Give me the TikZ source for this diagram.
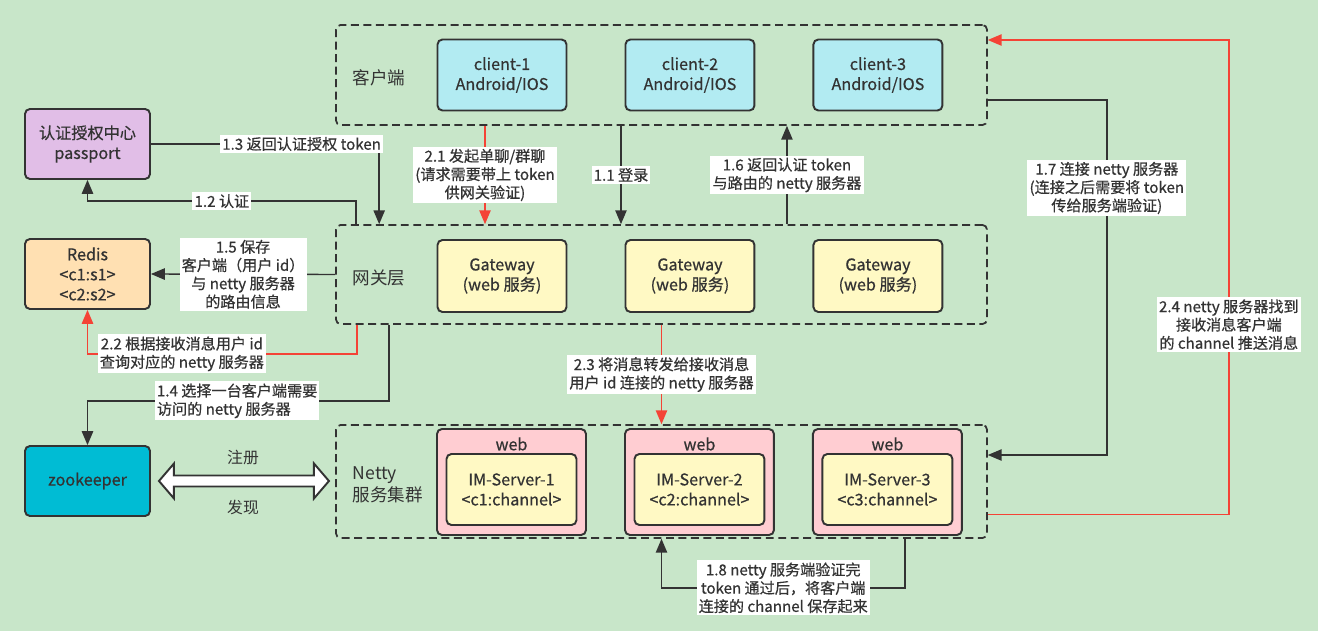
\documentclass[tikz,border=0pt]{standalone}
\usepackage{fontspec}
\setmainfont{Noto Sans CJK SC}
\newfontfamily\heavyfont{Noto Sans CJK SC}[FakeBold=0.6]
\usetikzlibrary{arrows}
\usetikzlibrary{positioning}

\definecolor{bggreen}{HTML}{C8E6C9}
\definecolor{linegray}{HTML}{333333}
\definecolor{msgred}{HTML}{F44336}
\definecolor{clientblue}{HTML}{B2EBF2}
\definecolor{gateyellow}{HTML}{FFF9C4}
\definecolor{webpink}{HTML}{FFCDD2}
\definecolor{authpurple}{HTML}{E1BEE7}
\definecolor{redisorange}{HTML}{FFE0B2}
\definecolor{zkcyan}{HTML}{00BCD4}

\begin{document}
\begin{tikzpicture}[x=0.02cm,y=-0.02cm,>=triangle 45,thick,node distance=3.76cm,
    box/.style={rectangle,rounded corners=2.8pt,draw=linegray,line width=1.1pt,align=center,
      font=\heavyfont\fontsize{9.2}{11.4}\selectfont,text=linegray},
    client node/.style={box,fill=clientblue,minimum width=2.58cm,minimum height=1.42cm},
    gate node/.style={box,fill=gateyellow,minimum width=2.58cm,minimum height=1.44cm},
    web node/.style={box,fill=webpink,minimum width=2.98cm,minimum height=2.12cm},
    im node/.style={box,fill=gateyellow,minimum width=2.6cm,minimum height=1.42cm},
    side node/.style={box,minimum width=2.5cm,minimum height=1.4cm},
    layer/.style={rectangle,draw=linegray,dash pattern=on 4.5pt off 2.6pt,line width=1pt,
      rounded corners=2.5pt,minimum width=13.02cm},
    layer text/.style={align=left,text=linegray,font=\fontsize{10}{12.5}\selectfont},
    lab/.style={fill=white,align=center,inner sep=1.2pt,text=linegray,
      font=\heavyfont\fontsize{8.6}{10.4}\selectfont},
    blk edge/.style={draw=linegray,thick},
    red edge/.style={draw=msgred,thick}]

  \fill[bggreen] (0,0) rectangle (1318,631);
  \useasboundingbox (0,0) rectangle (1318,631);

  % layers
  \node[layer,minimum height=2cm] (cl) at (661.5,75) {};
  \node[layer,minimum height=1.98cm] (gw) at (661.5,274.5) {};
  \node[layer,minimum height=2.26cm] (nt) at (661.5,481.5) {};
  \node[layer text,anchor=west] (tcl) at ([xshift=0.22cm,yshift=-0.06cm]cl.west) {客户端};
  \node[layer text,anchor=west] (tgw) at ([xshift=0.22cm,yshift=-0.06cm]gw.west) {网关层};
  \node[layer text,anchor=west] (tnt) at ([xshift=0.22cm,yshift=-0.07cm]nt.west) {Netty\\服务集群};

  % clients
  \node[client node] (c1) at (502,75) {client-1\\Android/IOS};
  \node[client node] (c2) [right of=c1] {client-2\\Android/IOS};
  \node[client node] (c3) [right of=c2] {client-3\\Android/IOS};

  % gateways
  \node[gate node] (g1) at (502,276) {Gateway\\(web 服务)};
  \node[gate node] (g2) [right of=g1] {Gateway\\(web 服务)};
  \node[gate node] (g3) [right of=g2] {Gateway\\(web 服务)};

  % netty servers
  \node[web node,label={[anchor=north,yshift=-1.6pt,font=\heavyfont\fontsize{9.2}{11}\selectfont,text=linegray]north:web}] (w1) at (511.5,482) {};
  \node[web node,label={[anchor=north,yshift=-1.6pt,font=\heavyfont\fontsize{9.2}{11}\selectfont,text=linegray]north:web}] (w2) [right of=w1] {};
  \node[web node,label={[anchor=north,yshift=-1.6pt,font=\heavyfont\fontsize{9.2}{11}\selectfont,text=linegray]north:web}] (w3) [right of=w2] {};
  \node[im node] (s1) at ([yshift=-0.15cm]w1.center) {IM-Server-1\\<c1:channel>};
  \node[im node] (s2) at ([yshift=-0.15cm]w2.center) {IM-Server-2\\<c2:channel>};
  \node[im node] (s3) at ([yshift=-0.15cm]w3.center) {IM-Server-3\\<c3:channel>};

  % left side
  \node[side node,fill=authpurple] (pp) at (87.5,144) {认证授权中心\\passport};
  \node[side node,fill=redisorange] (rd) at (87.5,274) {Redis\\<c1:s1>\\<c2:s2>};
  \node[side node,fill=zkcyan] (zk) at (87.5,481) {zookeeper};

  % register / discover
  \coordinate (dl) at ([xshift=0.16cm]zk.east);
  \draw[draw=linegray,fill=white,line width=1.1pt] (dl) -- ++(15,-17.5) -- ++(0,12) -- ++(140,0)
    -- ++(0,-12) -- ++(15,17.5) -- ++(-15,17.5) -- ++(0,-12) -- ++(-140,0) -- ++(0,12) -- cycle;
  \node[layer text,font=\fontsize{9}{11}\selectfont] (reg) at (243,458) {注册};
  \node[layer text,font=\fontsize{9}{11}\selectfont] (dis) at (243,507) {发现};

  % login flow
  \draw[blk edge,->] ([xshift=-1.38cm]c2.south |- cl.south) -- node[lab] (l11) {1.1 登录}
    ([xshift=-1.38cm]c2.south |- gw.north);
  \draw[blk edge,->] ([xshift=0.42cm]gw.north west) -- ++(0,-23)
    -| node[lab,pos=0.25] (l12) {1.2 认证} (pp.south);
  \draw[blk edge,->] (pp.east) -| node[lab,pos=0.33] (l13) {1.3 返回认证授权 token}
    ([xshift=0.88cm]gw.north west);
  \draw[blk edge,->] ([xshift=1.08cm]gw.south west) -- ++(0,76)
    -| node[lab,pos=0.252,align=left] (l14) {1.4 选择一台客户端需要\\访问的 netty 服务器} (zk.north);
  \draw[blk edge,->] (gw.west) -- node[lab] (l15) {1.5 保存\\客户端（用户 id）\\与 netty 服务器\\的路由信息} (rd.east);
  \draw[blk edge,->] ([xshift=1.94cm]c2.south |- gw.north) -- node[lab] (l16) {1.6 返回认证 token\\与路由的 netty 服务器}
    ([xshift=1.94cm]c2.south |- cl.south);
  \draw[blk edge,->] ([yshift=-0.5cm]cl.east) -- ++(119,0)
    |- node[lab,pos=0.124] (l17) {1.7 连接 netty 服务器\\(连接之后需要将 token\\传给服务端验证)} ([yshift=0.53cm]nt.east);
  \draw[blk edge,->] ([xshift=4.87cm]nt.south) -- ++(0,49)
    -| node[lab,pos=0.25] (l18) {1.8 netty 服务端验证完\\token 通过后，将客户端\\连接的 channel 保存起来} (nt.south);

  % message flow
  \draw[red edge,->] ([xshift=-0.34cm]c1.south |- cl.south) -- node[lab] (l21) {2.1 发起单聊/群聊\\(请求需要带上 token\\供网关验证)}
    ([xshift=-0.34cm]c1.south |- gw.north);
  \draw[red edge,->] ([xshift=0.44cm]gw.south west) -- ++(0,29)
    -| node[lab,pos=0.325] (l22) {2.2 根据接收消息用户 id\\查询对应的 netty 服务器} (rd.south);
  \draw[red edge,->] (gw.south) -- node[lab] (l23) {2.3 将消息转发给接收消息\\用户 id 连接的 netty 服务器} (nt.north);
  \draw[red edge,->] ([yshift=-0.66cm]nt.east) -- ++(241,0)
    |- node[lab,pos=0.2] (l24) {2.4 netty 服务器找到\\接收消息客户端\\的 channel 推送消息} ([yshift=0.7cm]cl.east);
\end{tikzpicture}
\end{document}
